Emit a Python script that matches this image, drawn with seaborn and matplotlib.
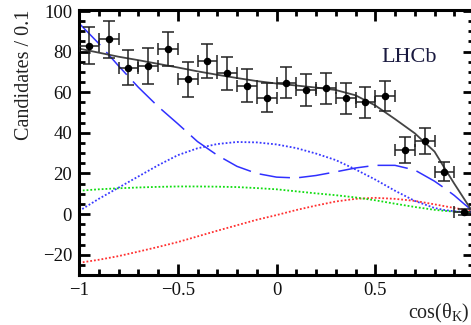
import numpy as np
import pandas as pd
import matplotlib
matplotlib.use("Agg")
import matplotlib.pyplot as plt
import seaborn as sns
from matplotlib.ticker import MultipleLocator

# ---- data points (bin centres, counts, errors) ----
bin_x = [-0.95, -0.85, -0.75, -0.65, -0.55, -0.45, -0.35, -0.25, -0.15, -0.05,
         0.05, 0.15, 0.25, 0.35, 0.45, 0.55, 0.65, 0.75, 0.85, 0.95]
counts = [83.0, 86.0, 72.0, 73.0, 81.3, 66.3, 75.5, 69.3, 63.2, 57.3,
          64.7, 61.1, 61.9, 57.0, 55.0, 58.3, 31.5, 36.1, 20.8, 1.1]
count_err = [8.9, 9.2, 8.6, 8.7, 8.5, 8.5, 8.5, 8.2, 8.1, 7.1,
             7.6, 7.9, 7.8, 7.6, 7.6, 7.4, 6.4, 6.3, 4.7, 1.5]
bin_half = [0.05] * 20

# ---- fit curves sampled from the figure ----
curve_x = [-1.0, -0.9, -0.8, -0.7, -0.6, -0.5, -0.4, -0.3, -0.2, -0.1, 0.0,
           0.1, 0.2, 0.3, 0.4, 0.5, 0.6, 0.7, 0.8, 0.85, 0.9, 0.95, 1.0]
total_fit = [81.5, 79.5, 77.5, 75.8, 74.0, 72.2, 70.3, 68.6, 67.0, 65.5, 64.3,
             63.3, 62.3, 61.1, 58.5, 53.5, 46.8, 39.8, 30.8, 22.8, 15.0, 7.5, 0.0]
comp_dashed = [94.0, 84.0, 73.0, 62.5, 53.0, 44.5, 35.7, 29.0, 23.5, 20.0, 18.2,
               17.8, 19.0, 20.8, 22.7, 24.0, 24.0, 21.7, 16.2, 12.8, 9.2, 5.0, 1.0]
comp_blue = [1.5, 7.5, 13.0, 18.5, 24.0, 29.0, 32.4, 34.5, 35.5, 35.3, 34.3,
             32.5, 29.8, 26.6, 22.0, 17.0, 11.5, 6.5, 3.0, 2.0, 1.4, 1.1, 1.0]
comp_green = [11.5, 12.2, 12.7, 13.1, 13.4, 13.6, 13.6, 13.5, 13.3, 12.8, 12.2,
              11.2, 10.2, 9.3, 8.2, 6.8, 5.1, 3.5, 2.1, 1.6, 1.2, 1.0, 1.0]
comp_red = [-24.0, -22.5, -20.7, -18.5, -16.2, -13.8, -11.0, -8.2, -5.5, -2.8, -0.5,
            2.0, 4.2, 6.2, 7.5, 8.0, 7.5, 6.5, 4.8, 3.9, 3.0, 2.2, 1.5]

x_ticks = [-1.0, -0.5, 0.0, 0.5, 1.0]
x_tick_labels = ["\u22121", "\u22120.5", "0", "0.5", ""]
y_ticks = [-20, 0, 20, 40, 60, 80, 100]

sns.set_theme(style="ticks")
plt.rcParams["font.family"] = ["Liberation Serif", "DejaVu Serif"]
plt.rcParams["mathtext.fontset"] = "custom"
plt.rcParams["mathtext.rm"] = "Liberation Serif"
plt.rcParams["mathtext.it"] = "Liberation Serif"

W, H = 471, 325
fig = plt.figure(figsize=(W / 100, H / 100), dpi=100)
fig.patch.set_facecolor("white")
ax = fig.add_axes([79 / W, 50 / H, 395 / W, 265 / H])
ax.set_facecolor("white")

df = pd.DataFrame({"x": curve_x, "total": total_fit, "dash": comp_dashed,
                   "blue": comp_blue, "green": comp_green, "red": comp_red})

sns.lineplot(data=df, x="x", y="red", ax=ax, color="#ff3030", lw=1.3,
             linestyle=(0, (1, 1.1)), sort=False)
sns.lineplot(data=df, x="x", y="green", ax=ax, color="#10dd10", lw=1.3,
             linestyle=(0, (1, 1.1)), sort=False)
sns.lineplot(data=df, x="x", y="blue", ax=ax, color="#3838ff", lw=1.3,
             linestyle=(0, (1, 1.1)), sort=False)
sns.lineplot(data=df, x="x", y="dash", ax=ax, color="#3030ff", lw=1.1,
             linestyle=(0, (20, 6)), sort=False)
sns.lineplot(data=df, x="x", y="total", ax=ax, color="#444444", lw=1.3, sort=False)

ax.errorbar(bin_x, counts, yerr=count_err, xerr=bin_half, fmt="o", color="black",
            ecolor="#222222", elinewidth=1.1, capsize=4, capthick=1.1,
            markersize=4.4, zorder=5, clip_on=True)

ax.set_xlim(-1.0, 1.0)
ax.set_ylim(-30, 100.5)
ax.set_xticks(x_ticks)
ax.set_xticklabels(x_tick_labels)
ax.set_yticks(y_ticks)
ax.xaxis.set_minor_locator(MultipleLocator(0.1))
ax.yaxis.set_minor_locator(MultipleLocator(5))
ax.tick_params(which="both", direction="in", top=True, right=True,
               labelsize=13.5, labelcolor="#111111", width=2.0, color="black")
ax.tick_params(which="major", length=8, pad=5)
ax.tick_params(which="minor", length=4)
for s in ax.spines.values():
    s.set_linewidth(2.2)
    s.set_color("black")
    s.set_visible(True)

ax.set_xlabel("")
ax.set_ylabel("Candidates / 0.1", fontsize=14.5, color="#222222", loc="top",
              labelpad=6)
ax.text(0.53, 75, "LHCb", fontsize=16, color="#1a1a40",
        ha="left", va="baseline")
fig.text(408 / W, 1 - 318 / H, r"cos($\theta_{\mathrm{K}}$)", fontsize=14.5,
         color="#222222", ha="left", va="baseline")

fig.savefig("out.png", dpi=100)
